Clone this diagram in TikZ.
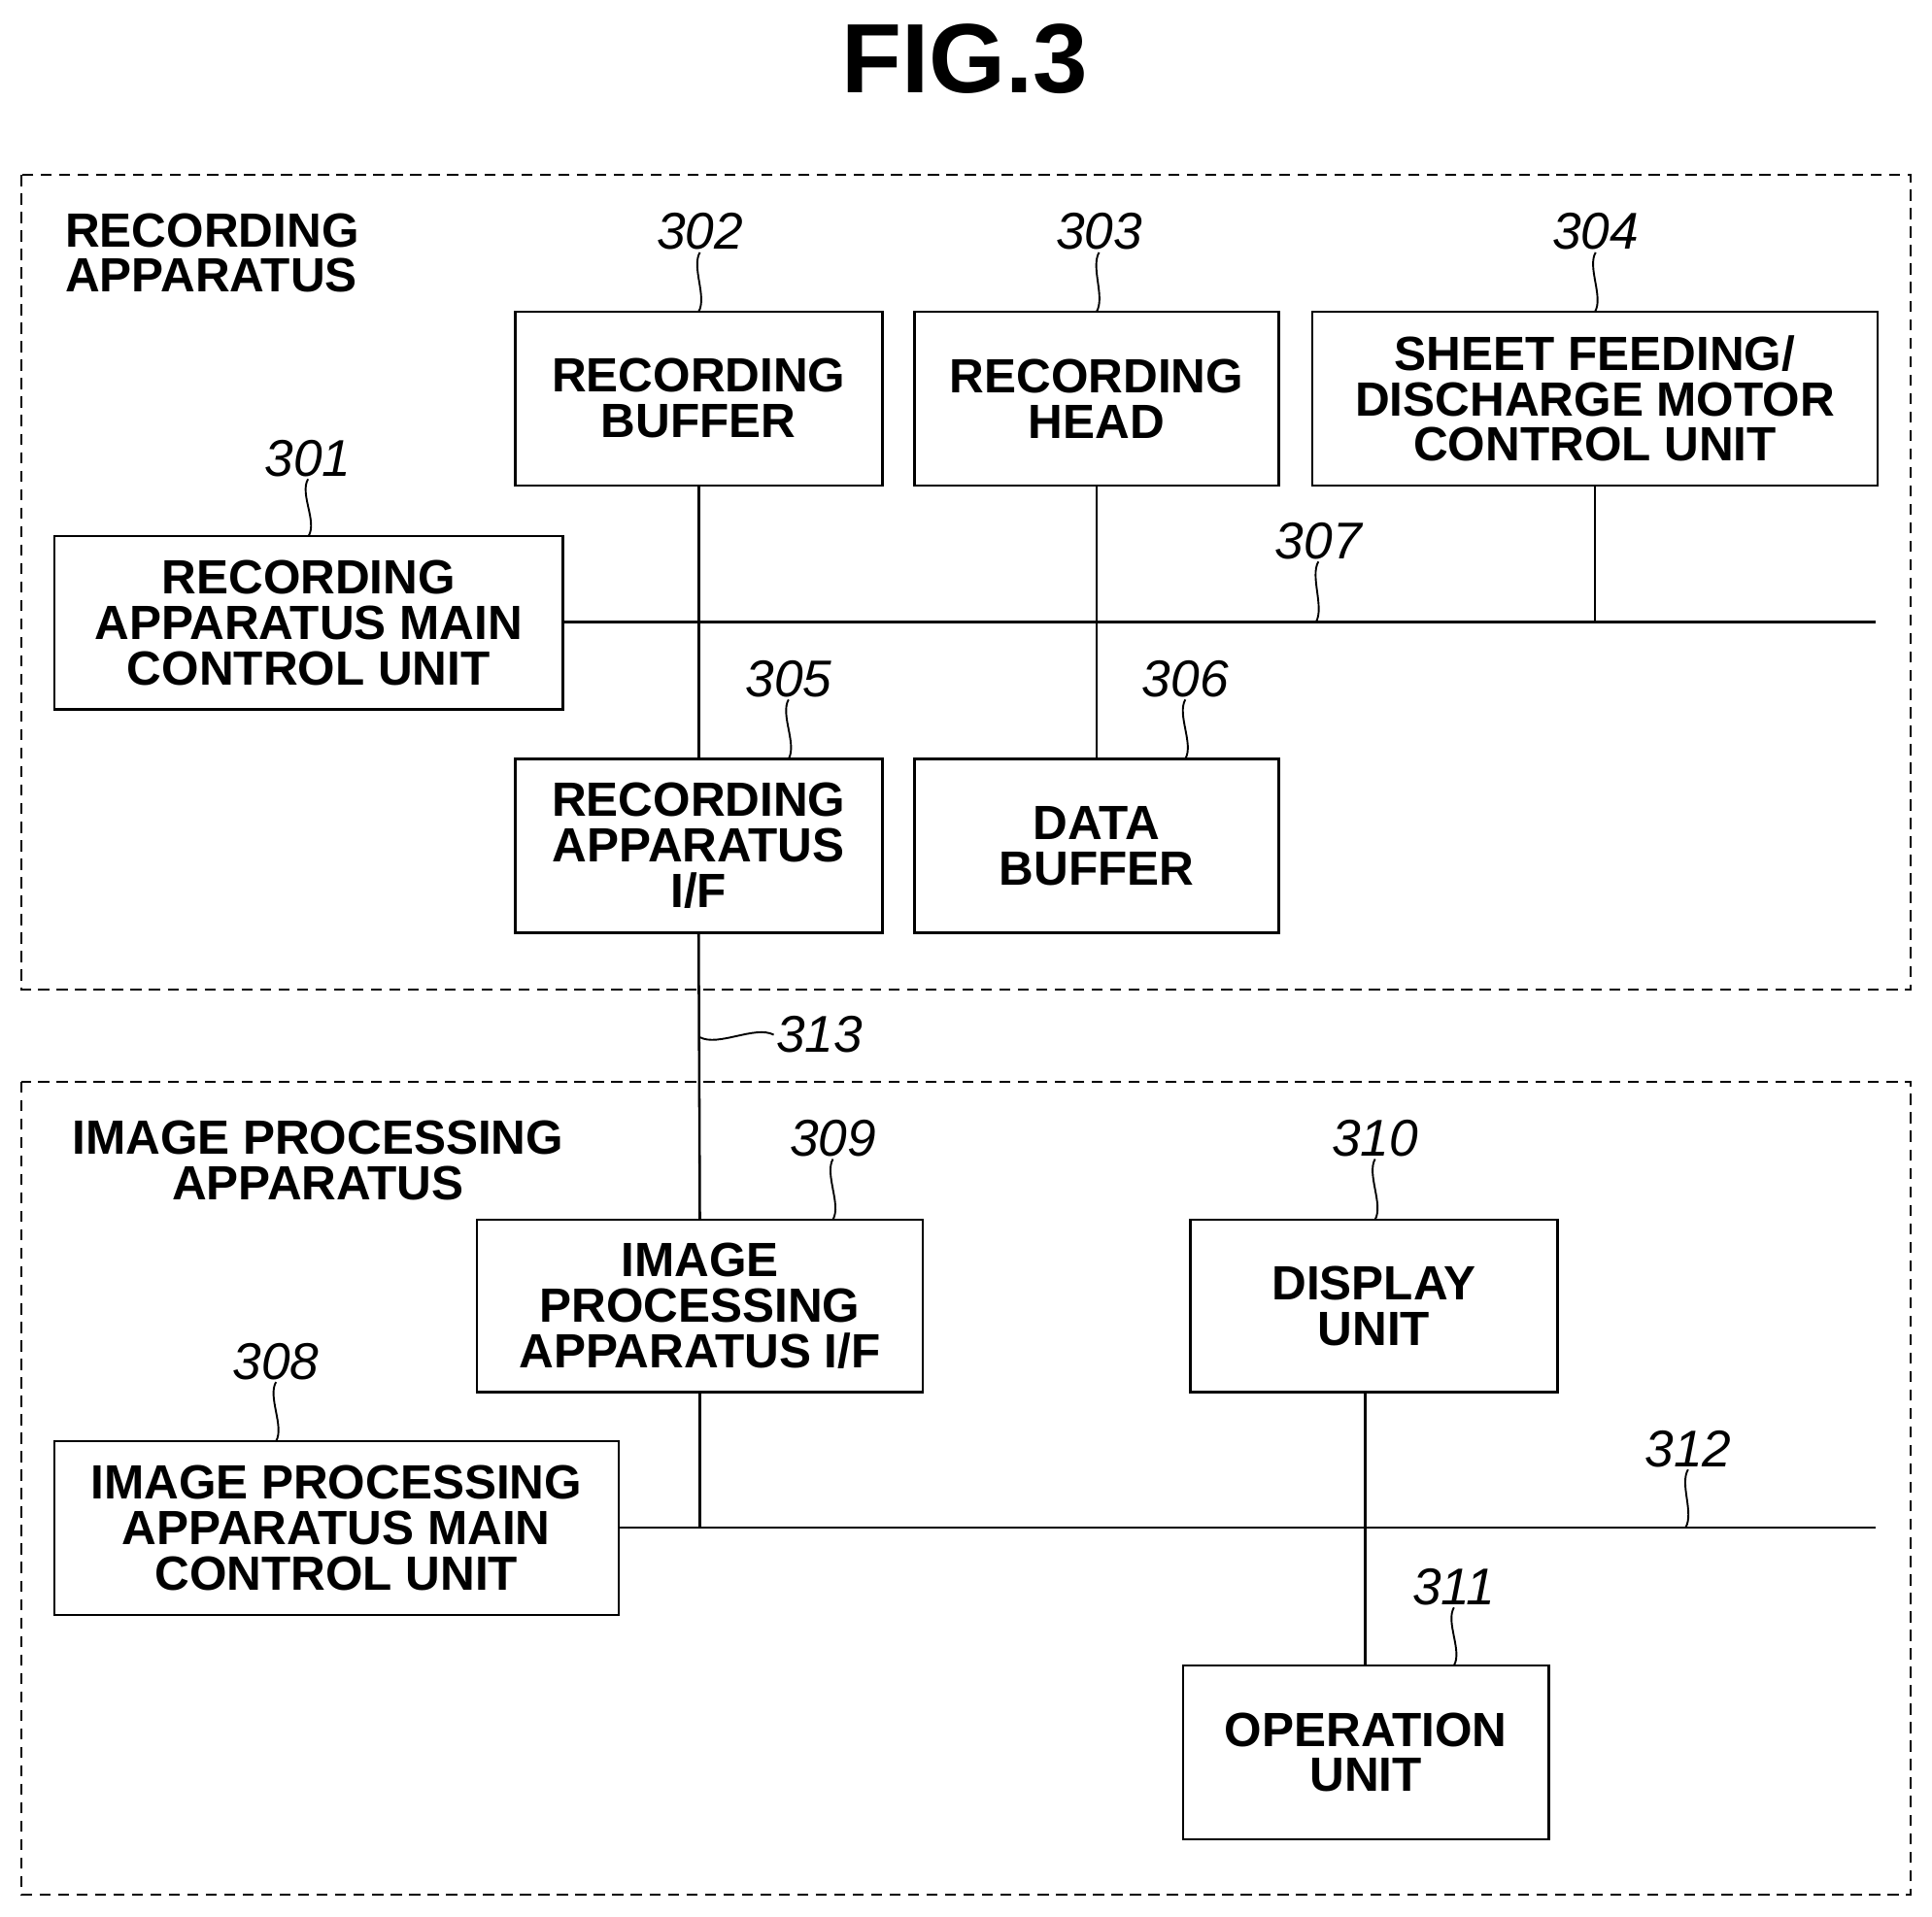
\documentclass[tikz,border=0pt]{standalone}
\usepackage{fontspec}
\setmainfont{Liberation Sans}
\begin{document}
\begin{tikzpicture}[x=1pt,y=-1pt,line width=2pt,
  blk/.style={align=center,font=\fontsize{39}{37}\selectfont\bfseries,inner sep=0pt},
  num/.style={font=\fontsize{42}{42}\selectfont\itshape,inner sep=1pt},
  grp/.style={draw,dash pattern=on 9pt off 6pt,line width=1.6pt},
  sq/.style={line width=1.5pt}]
\useasboundingbox (0,0) rectangle (1568,1556);
\node[font=\fontsize{80}{80}\selectfont\bfseries] (title) at (783,48) {FIG.3};
\draw[grp] (17,142) rectangle (1551,803);
\draw[grp] (17,878) rectangle (1551,1538);
\node[font=\fontsize{39}{37}\selectfont\bfseries,align=left,anchor=north west,inner sep=0pt] (ra) at (52,172) {RECORDING\\APPARATUS};
\node[font=\fontsize{39}{37}\selectfont\bfseries,align=center,inner sep=0pt] (ipa) at (258,942) {IMAGE PROCESSING\\APPARATUS};
% blocks
\newcommand\blkat[6]{\draw (#2,#3) rectangle (#4,#5); \node[blk] (#1) at ({(#2+#4)/2},{(#3+#5)/2}) {#6};
  \coordinate (#1n) at ({(#2+#4)/2},#3); \coordinate (#1s) at ({(#2+#4)/2},#5);}
\blkat{b302}{418}{253}{716}{394}{RECORDING\\BUFFER}
\blkat{b303}{742}{253}{1038}{394}{RECORDING\\HEAD}
\blkat{b304}{1065}{253}{1524}{394}{SHEET FEEDING/\\DISCHARGE MOTOR\\CONTROL UNIT}
\blkat{b301}{44}{435}{457}{576}{RECORDING\\APPARATUS MAIN\\CONTROL UNIT}
\blkat{b305}{418}{616}{716}{757}{RECORDING\\APPARATUS\\I/F}
\blkat{b306}{742}{616}{1038}{757}{DATA\\BUFFER}
\blkat{b309}{387}{990}{749}{1130}{IMAGE\\PROCESSING\\APPARATUS I/F}
\blkat{b310}{966}{990}{1264}{1130}{DISPLAY\\UNIT}
\blkat{b308}{44}{1170}{502}{1311}{IMAGE PROCESSING\\APPARATUS MAIN\\CONTROL UNIT}
\blkat{b311}{960}{1352}{1257}{1493}{OPERATION\\UNIT}
% buses
\coordinate (bus307w) at (457,505);
\coordinate (bus307e) at (1522,505);
\coordinate (bus312w) at (502,1240);
\coordinate (bus312e) at (1522,1240);
\coordinate (v310) at (1108,1130);
\coordinate (v311) at (1108,1352);
\draw (bus307w) -- (bus307e);
\draw (bus312w) -- (bus312e);
\draw (b302s) -- (b305n);
\draw (b303s) -- (b306n);
\draw (b304s) -- (b304s |- bus307e);
\draw (b305s) -- (b309n);
\draw (b309s) -- (b309s |- bus312e);
\draw (v310) -- (v311);
% numbers
\newcommand\lbl[4]{\node[num] (#1) at (#2,#3) {#1}; \draw[sq] (#1.south) .. controls +(-7,12) and +(7,-12) .. (#4);}
\lbl{302}{568}{188}{b302n}
\lbl{303}{892}{188}{b303n}
\lbl{304}{1295}{188}{b304n}
\lbl{301}{250}{372}{b301n}
\lbl{305}{640}{551}{b305n -| 640,0}
\lbl{306}{962}{551}{b306n -| 962,0}
\coordinate (c307) at (1068,505);
\lbl{307}{1070}{439}{c307}
\lbl{309}{676}{924}{b309n -| 676,0}
\lbl{310}{1116}{924}{b310n -| 1116,0}
\lbl{308}{224}{1105}{b308n -| 224,0}
\lbl{311}{1180}{1288}{b311n -| 1180,0}
\coordinate (c312) at (1368,1240);
\lbl{312}{1370}{1176}{c312}
\node[num] (313) at (665,840) {313};
\coordinate (c313) at (568,842);
\draw[sq] (313.west) .. controls +(-15,-8) and +(15,8) .. (c313);
\end{tikzpicture}
\end{document}
